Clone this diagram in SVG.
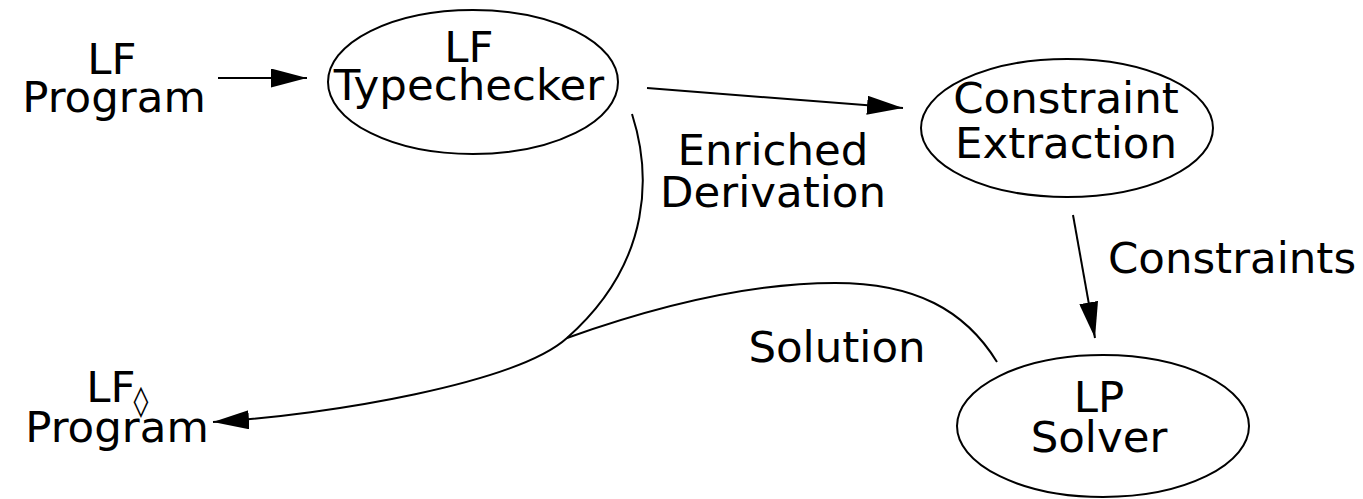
<svg xmlns="http://www.w3.org/2000/svg" width="1363" height="499" viewBox="0 0 1363 499">
  <style>
    .t { font-family: "DejaVu Sans", sans-serif; font-size: 43.5px; fill: #000; text-anchor: middle; }
    .n { fill: none; stroke: #000; stroke-width: 2; }
    .c { fill: none; stroke: #000; stroke-width: 2; }
  </style>
  <defs>
    <marker id="ah" viewBox="0 0 36 19" refX="36" refY="9.5" markerWidth="36" markerHeight="19" markerUnits="userSpaceOnUse" orient="auto">
      <path d="M0,0 L36,9.5 L0,19 Z" fill="#000"/>
    </marker>
  </defs>
  <rect width="1363" height="499" fill="#fff"/>

  <g id="lf-program">
    <text class="t" x="112" y="74">LF</text>
    <text class="t" x="114" y="112">Program</text>
  </g>

  <g id="lf-typechecker">
    <ellipse class="n" cx="473" cy="82" rx="145" ry="72"/>
    <text class="t" x="469" y="62">LF</text>
    <text class="t" x="469" y="100">Typechecker</text>
  </g>

  <g id="constraint-extraction">
    <ellipse class="n" cx="1067" cy="128" rx="146" ry="69"/>
    <text class="t" x="1066" y="113">Constraint</text>
    <text class="t" x="1066" y="158">Extraction</text>
  </g>

  <g id="lp-solver">
    <ellipse class="n" cx="1103" cy="426" rx="146" ry="71"/>
    <text class="t" x="1099" y="412">LP</text>
    <text class="t" x="1099" y="452">Solver</text>
  </g>

  <g id="lf-diamond-program">
    <text class="t" x="111" y="402">LF</text>
    <text x="141" y="411" style="font-family: 'DejaVu Sans', sans-serif; font-size: 30px; text-anchor: middle;">◊</text>
    <text class="t" x="117" y="442">Program</text>
  </g>

  <g id="connectors">
    <line class="c" x1="218" y1="78" x2="307" y2="78" marker-end="url(#ah)"/>
    <line class="c" x1="647" y1="88" x2="903" y2="108" marker-end="url(#ah)"/>
    <line class="c" x1="1073" y1="215" x2="1095" y2="338" marker-end="url(#ah)"/>
    <path class="c" d="M632,114 C650,170 655,260 567,338 C517,383 330,415 213,422" marker-end="url(#ah)"/>
    <path class="c" d="M997,362 C965,310 915,283 835,283 C740,283 640,312 567,338"/>
  </g>

  <g id="labels">
    <text class="t" x="773" y="165">Enriched</text>
    <text class="t" x="773" y="207">Derivation</text>
    <text class="t" x="1232" y="273">Constraints</text>
    <text class="t" x="837" y="362">Solution</text>
  </g>
</svg>
